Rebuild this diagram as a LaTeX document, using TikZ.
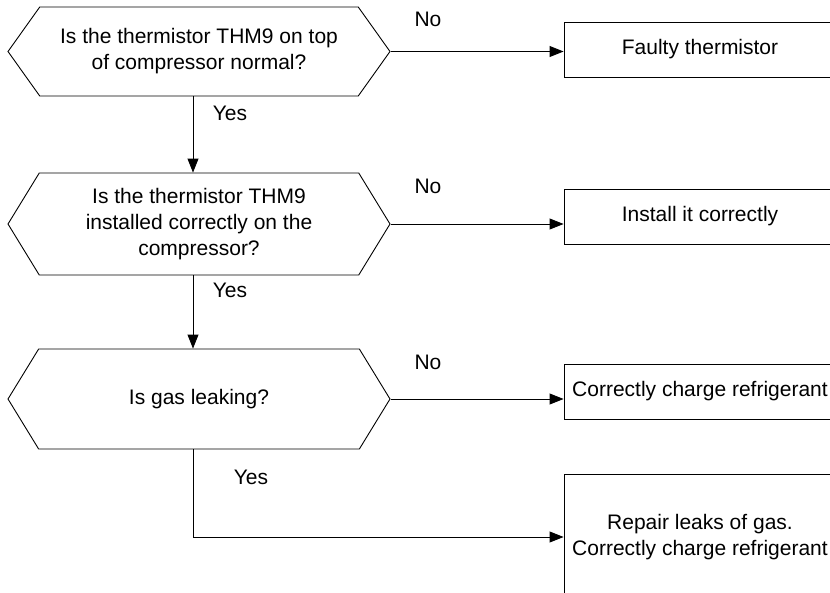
\documentclass[tikz,border=0pt]{standalone}
\usepackage{fontspec}
\setmainfont{Liberation Sans}
\usetikzlibrary{shapes.symbols,arrows.meta,positioning}

\begin{document}
\begin{tikzpicture}[x=1pt,y=-1pt,
  query/.style={signal,signal to=west and east,draw,line width=0.9pt,
                minimum width=382pt,align=center,inner sep=0pt},
  action/.style={rectangle,draw,line width=0.9pt,minimum width=272pt,
                 minimum height=55pt,align=center,inner sep=0pt},
  arrow/.style={-{Triangle[length=14pt,width=11pt]},line width=0.9pt},
  label/.style={inner sep=0pt},
  font=\fontsize{21}{26}\selectfont
]
\useasboundingbox (0,0) rectangle (830,592);
\clip (0,0) rectangle (830,592);

%% Questions
\node[query,minimum height=89pt,signal pointer angle=109] (q1) at (199,51.5)
  {Is the thermistor THM9 on top\\of compressor normal?};
\node[query,minimum height=102pt,signal pointer angle=117] (q2) at (199,224)
  {Is the thermistor THM9\\installed correctly on the\\compressor?};
\node[query,minimum height=100pt,signal pointer angle=117] (q3) at (199,399)
  {Is gas leaking?};

%% Actions
\node[action] (b1) at (700,49.5)  {Faulty thermistor};
\node[action] (b2) at (700,216.5) {Install it correctly};
\node[action] (b3) at (700,391.5) {Correctly charge refrigerant};
\node[action,minimum height=126pt] (b4) at (700,537)
  {Repair leaks of gas.\\Correctly charge refrigerant};

%% Arrows
\draw[arrow] (q1.east) -- (q1.east -| b1.west);
\draw[arrow] (q2.east) -- (q2.east -| b2.west);
\draw[arrow] (q3.east) -- (q3.east -| b3.west);
\draw[arrow] ([xshift=-6pt]q1.south) -- ([xshift=-6pt]q2.north);
\draw[arrow] ([xshift=-6pt]q2.south) -- ([xshift=-6pt]q3.north);
\draw[arrow] ([xshift=-6pt]q3.south) |- (b4.west);

%% Labels
\node[label] (no1) at (428,19)  {No};
\node[label] (no2) at (428,186) {No};
\node[label] (no3) at (428,362) {No};
\node[label] (yes1) at (230,113) {Yes};
\node[label] (yes2) at (230,290) {Yes};
\node[label] (yes3) at (251,477) {Yes};

\end{tikzpicture}
\end{document}
